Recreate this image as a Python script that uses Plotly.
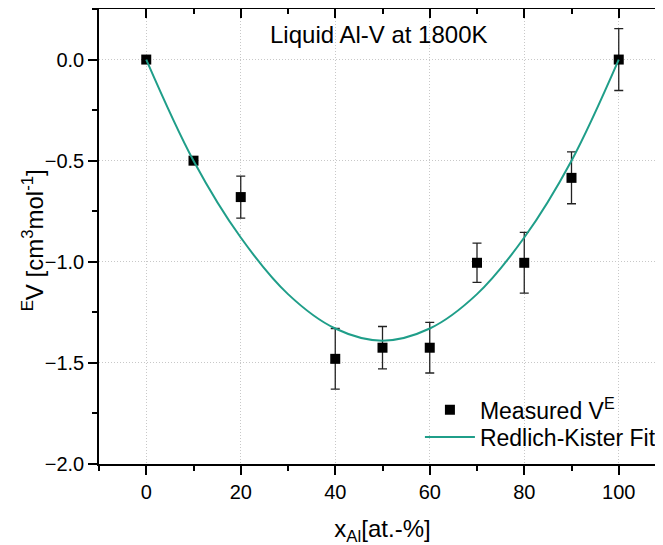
import plotly.graph_objects as go

# ---- data ----
x_meas = [0, 10, 20, 40, 50, 60, 70, 80, 90, 100]
y_meas = [0.0, -0.50, -0.68, -1.48, -1.425, -1.425, -1.005, -1.005, -0.585, 0.0]
err_meas = [0.0, 0.0, 0.104, 0.15, 0.105, 0.125, 0.097, 0.15, 0.128, 0.153]

x_fit = [0, 10, 20, 30, 40, 50, 60, 70, 80, 90, 100]
y_fit = [0.0, -0.50, -0.88, -1.16, -1.33, -1.39, -1.33, -1.16, -0.88, -0.50, 0.0]

x_ticks = [0, 20, 40, 60, 80, 100]
y_ticks = [-2.0, -1.5, -1.0, -0.5, 0.0]

FONT = "Liberation Sans, Arial, sans-serif"
TEAL = "#1f9e89"
GRID = "#c8c8c8"

fig = go.Figure()

fig.add_trace(go.Scatter(
    x=x_meas, y=y_meas, mode="markers", name="Measured V<sup>E</sup>",
    marker=dict(symbol="square", size=10, color="black"),
    error_y=dict(type="data", array=err_meas, visible=True,
                 color="#222222", thickness=1.3, width=4.5),
    legend="legend",
))
fig.add_trace(go.Scatter(
    x=x_fit, y=y_fit, mode="lines", name="Redlich-Kister Fit",
    line=dict(color=TEAL, width=2, shape="spline", smoothing=1.0),
    legend="legend2",
))
# helper (empty) trace so the mirrored top/right axes are drawn
fig.add_trace(go.Scatter(x=[None], y=[None], xaxis="x2", yaxis="y2",
                         showlegend=False, hoverinfo="skip"))

axis_common = dict(showline=True, linecolor="black", linewidth=1.6,
                   zeroline=False, tickcolor="black", tickwidth=1.5,
                   tickfont=dict(family=FONT, size=20, color="black"))

leg_common = dict(xanchor="left", yanchor="middle", bgcolor="rgba(0,0,0,0)",
                  itemwidth=50,
                  font=dict(family=FONT, size=23, color="black"))

fig.update_layout(
    width=663, height=545,
    margin=dict(l=91, r=5, t=1, b=89),
    paper_bgcolor="white", plot_bgcolor="white",
    font=dict(family=FONT, color="black"),
    showlegend=True,
    legend=dict(x=0.566, y=0.119, **leg_common),
    legend2=dict(x=0.566, y=0.059, **leg_common),
    xaxis=dict(
        range=[-10, 110], tickvals=x_ticks, ticks="outside", ticklen=9,
        showgrid=True, gridcolor=GRID, griddash="1px,2px", gridwidth=1,
        minor=dict(ticks="outside", ticklen=5, tickwidth=1.5, tickcolor="black",
                   dtick=10, tick0=0, showgrid=False),
        title=dict(text="x<sub>Al</sub>[at.-%]", font=dict(family=FONT, size=24),
                   standoff=18),
        **axis_common,
    ),
    yaxis=dict(
        range=[-2.0, 0.25], tickvals=y_ticks, tickformat=".1f", ticks="outside",
        ticklen=9,
        showgrid=True, gridcolor=GRID, griddash="1px,2px", gridwidth=1,
        minor=dict(ticks="outside", ticklen=5, tickwidth=1.5, tickcolor="black",
                   dtick=0.25, tick0=0, showgrid=False),
        **axis_common,
    ),
    xaxis2=dict(
        overlaying="x", matches="x", side="top", anchor="y",
        range=[-10, 110], tickvals=x_ticks, ticks="inside", ticklen=9,
        showticklabels=False, showgrid=False,
        minor=dict(ticks="inside", ticklen=5, tickwidth=1.5, tickcolor="black",
                   dtick=10, tick0=0, showgrid=False),
        **axis_common,
    ),
    yaxis2=dict(
        overlaying="y", matches="y", side="right", anchor="x",
        range=[-2.0, 0.25], tickvals=y_ticks, ticks="inside", ticklen=9,
        showticklabels=False, showgrid=False,
        minor=dict(ticks="inside", ticklen=5, tickwidth=1.5, tickcolor="black",
                   dtick=0.25, tick0=0, showgrid=False),
        **axis_common,
    ),
    annotations=[
        dict(text="Liquid Al-V at 1800K", x=49.2, xref="x", y=0.944, yref="paper",
             xanchor="center", yanchor="middle", showarrow=False,
             font=dict(family=FONT, size=24, color="black")),
        dict(text="<sup>E</sup>V [cm<sup>3</sup>mol<sup>-1</sup>]",
             x=-0.116, xref="paper", y=0.492, yref="paper", textangle=-90,
             xanchor="center", yanchor="middle", showarrow=False,
             font=dict(family=FONT, size=24, color="black")),
    ],
)

fig.write_html("out.html")
